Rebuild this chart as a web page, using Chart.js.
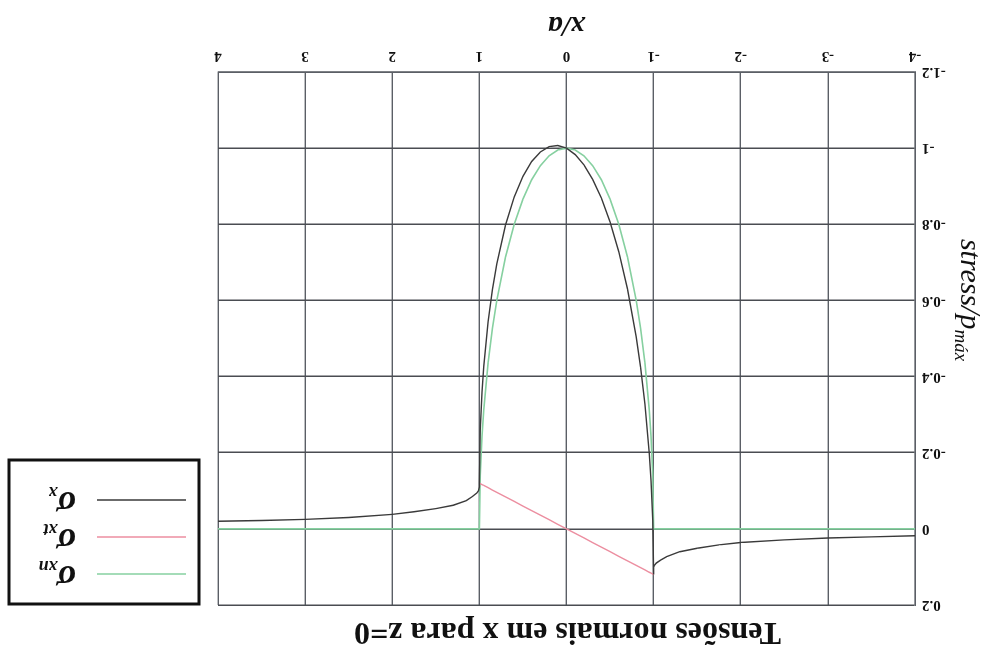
<!DOCTYPE html>
<html>
<head>
<meta charset="utf-8">
<script src="https://cdn.jsdelivr.net/npm/chart.js@4"></script>
<style>
  body { margin: 0; background: #fff; }
  /* the reference picture is printed upside down */
  #wrap { width: 987px; height: 652px; transform: rotate(180deg); }
</style>
</head>
<body>
<div id="wrap"><canvas id="stressChart" width="987" height="652"></canvas></div>
<script>
// x/a positions (contact edge at +-1 is listed twice: outside and inside value)
const xPos = [
    -4, -3.5, -3, -2.5, -2, -1.75, -1.5, -1.3, -1.15, -1.08, -1.03, -1.01, -1,
    -1, -0.99, -0.97, -0.95, -0.9, -0.85, -0.8, -0.7, -0.6, -0.5, -0.4, -0.3, -0.2, -0.1,
    0, 0.1, 0.2, 0.3, 0.4, 0.5, 0.6, 0.7, 0.8, 0.85, 0.9, 0.95, 0.97, 0.99, 1,
    1, 1.01, 1.03, 1.08, 1.15, 1.3, 1.5, 1.75, 2, 2.5, 3, 3.5, 4
];
const sigmaX = [
    0.018, 0.021, 0.024, 0.029, 0.036, 0.042, 0.051, 0.06, 0.073, 0.082, 0.09, 0.096, 0.1,
    0.12, -0.022, -0.127, -0.198, -0.328, -0.425, -0.504, -0.63, -0.728, -0.806, -0.869, -0.918, -0.956, -0.983,
    -1.0, -1.007, -1.004, -0.99, -0.965, -0.926, -0.872, -0.798, -0.696, -0.629, -0.544, -0.426, -0.359, -0.26, -0.12,
    -0.11, -0.1, -0.094, -0.085, -0.074, -0.062, -0.053, -0.045, -0.038, -0.03, -0.025, -0.022, -0.02
];
const sigmaXt = [
    null, null, null, null, null, null, null, null, null, null, null, null, null,
    0.12, 0.119, 0.116, 0.114, 0.108, 0.102, 0.096, 0.084, 0.072, 0.06, 0.048, 0.036, 0.024, 0.012,
    0, -0.012, -0.024, -0.036, -0.048, -0.06, -0.072, -0.084, -0.096, -0.102, -0.108, -0.114, -0.116, -0.119, -0.12,
    null, null, null, null, null, null, null, null, null, null, null, null, null
];
const sigmaXn = [
    0, 0, 0, 0, 0, 0, 0, 0, 0, 0, 0, 0, 0,
    0, -0.141, -0.243, -0.312, -0.436, -0.527, -0.6, -0.714, -0.8, -0.866, -0.917, -0.954, -0.98, -0.995,
    -1, -0.995, -0.98, -0.954, -0.917, -0.866, -0.8, -0.714, -0.6, -0.527, -0.436, -0.312, -0.243, -0.141, 0,
    0, 0, 0, 0, 0, 0, 0, 0, 0, 0, 0, 0, 0
];
const xTicks = [-4, -3, -2, -1, 0, 1, 2, 3, 4];
const yTicks = [-1.2, -1, -0.8, -0.6, -0.4, -0.2, 0, 0.2];
const yTickLabels = ['-1.2', '-1', '-0.8', '-0.6', '-0.4', '-0.2', '0', '0.2'];

const titleText = 'Tensões normais em x para z=0';

function pts(ys) {
    return xPos.map((x, i) => ({ x: x, y: ys[i] }));
}

// title, axis titles and the boxed legend
const labelsPlugin = {
    id: 'labels',
    afterDraw(chart) {
        const ctx = chart.ctx;
        const area = chart.chartArea;
        const cx = (area.left + area.right) / 2;
        ctx.save();
        ctx.fillStyle = '#111';
        ctx.textBaseline = 'middle';
        ctx.textAlign = 'center';
        ctx.font = 'bold 32px "Liberation Serif"';
        ctx.fillText(titleText, cx - 1, 21);
        ctx.font = 'italic bold 29px "Liberation Serif"';
        ctx.fillText('x/a', cx, 628);

        // y title, with subscript
        ctx.translate(20, 352);
        ctx.rotate(-Math.PI / 2);
        ctx.textAlign = 'left';
        ctx.textBaseline = 'alphabetic';
        ctx.font = 'italic 30px "Liberation Serif"';
        const main = 'stress/p';
        const w1 = ctx.measureText(main).width;
        ctx.font = 'italic 19px "Liberation Serif"';
        const w2 = ctx.measureText('máx').width;
        const x0 = -(w1 + w2) / 2;
        ctx.font = 'italic 30px "Liberation Serif"';
        ctx.fillText(main, x0, 6);
        ctx.font = 'italic 19px "Liberation Serif"';
        ctx.fillText('máx', x0 + w1, 12);
        ctx.restore();

        // legend
        ctx.save();
        ctx.strokeStyle = '#111';
        ctx.lineWidth = 3;
        ctx.strokeRect(788, 48, 190, 144);
        const rows = [78, 115, 152];
        const sets = chart.data.datasets.slice().reverse();
        sets.forEach((ds, i) => {
            const y = rows[i];
            ctx.strokeStyle = ds.borderColor;
            ctx.lineWidth = 1.5;
            ctx.beginPath();
            ctx.moveTo(801, y);
            ctx.lineTo(890, y);
            ctx.stroke();
            ctx.fillStyle = '#111';
            ctx.textBaseline = 'alphabetic';
            ctx.textAlign = 'left';
            ctx.font = 'italic bold 36px "Liberation Serif"';
            ctx.fillText(ds.label[0], 911, y + 8);
            const w = ctx.measureText(ds.label[0]).width;
            ctx.font = 'italic bold 18px "Liberation Serif"';
            ctx.fillText(ds.label.slice(1), 911 + w - 1, y + 13);
        });
        ctx.restore();
    }
};

const ctx = document.getElementById('stressChart').getContext('2d');
new Chart(ctx, {
    type: 'line',
    data: {
        datasets: [
            {
                label: 'σx',
                data: pts(sigmaX),
                borderColor: '#3a3a3a',
                borderWidth: 1.4
            },
            {
                label: 'σxt',
                data: pts(sigmaXt),
                borderColor: '#ec8ea0',
                borderWidth: 1.4
            },
            {
                label: 'σxn',
                data: pts(sigmaXn),
                borderColor: '#86d0a0',
                borderWidth: 1.6
            }
        ]
    },
    options: {
        responsive: false,
        animation: false,
        spanGaps: false,
        elements: {
            point: { radius: 0 },
            line: { tension: 0 }
        },
        layout: {
            padding: { top: 47, right: 218, left: 0, bottom: 0 }
        },
        plugins: {
            legend: { display: false },
            title: { display: false },
            tooltip: { enabled: false }
        },
        scales: {
            x: {
                type: 'linear',
                min: xTicks[0],
                max: xTicks[xTicks.length - 1],
                afterBuildTicks: (scale) => { scale.ticks = xTicks.map(v => ({ value: v })); },
                afterFit: (scale) => { scale.height = 72; },
                grid: { color: '#5b5f66', lineWidth: 1.4, drawTicks: false },
                border: { color: '#5b5f66', width: 1.4 },
                ticks: {
                    color: '#111',
                    padding: 7,
                    font: { family: 'Liberation Serif', size: 15, weight: 'bold' }
                }
            },
            y: {
                min: yTicks[0],
                max: yTicks[yTicks.length - 1],
                afterBuildTicks: (scale) => { scale.ticks = yTicks.map(v => ({ value: v })); },
                afterFit: (scale) => { scale.width = 72; },
                grid: { color: '#4a4d52', lineWidth: 1.4, drawTicks: false },
                border: { color: '#5b5f66', width: 1.4 },
                ticks: {
                    color: '#111',
                    padding: 7,
                    font: { family: 'Liberation Serif', size: 15, weight: 'bold' },
                    callback: (v, i) => yTickLabels[i]
                }
            }
        }
    },
    plugins: [labelsPlugin]
});
</script>
</body>
</html>
